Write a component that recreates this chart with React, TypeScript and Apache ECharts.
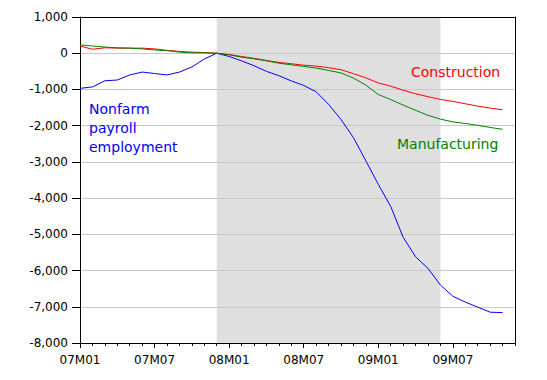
import React, { useEffect, useRef } from "react";
import * as echarts from "echarts";

const categories = [
  "07M01", "07M02", "07M03", "07M04", "07M05", "07M06", "07M07", "07M08", "07M09", "07M10", "07M11", "07M12",
  "08M01", "08M02", "08M03", "08M04", "08M05", "08M06", "08M07", "08M08", "08M09", "08M10", "08M11", "08M12",
  "09M01", "09M02", "09M03", "09M04", "09M05", "09M06", "09M07", "09M08", "09M09", "09M10", "09M11", "09M12",
];

const nonfarm = [
  -970, -930, -760, -740, -600, -520, -560, -600, -520, -380, -160, 0,
  -90, -210, -345, -500, -620, -765, -890, -1065, -1410, -1830, -2330, -2970,
  -3620, -4230, -5080, -5620, -5940, -6400, -6710, -6870, -7010, -7150, -7160,
];

const construction = [
  200, 110, 150, 140, 140, 140, 120, 80, 50, 30, 20, 0,
  -36, -90, -140, -200, -255, -290, -330, -355, -400, -455, -565, -680,
  -820, -910, -1020, -1120, -1200, -1275, -1330, -1395, -1460, -1515, -1560,
];

const manufacturing = [
  230, 200, 170, 150, 140, 120, 90, 70, 30, 10, 10, 0,
  -45, -110, -155, -210, -275, -320, -365, -410, -475, -545, -685, -880,
  -1140, -1280, -1430, -1575, -1715, -1820, -1895, -1940, -1990, -2050, -2100,
];

const recessionStart = "07M12";
const recessionEnd = "09M06";

const FONT = "DejaVu Sans";

export default function App() {
  const ref = useRef<HTMLDivElement>(null);

  useEffect(() => {
    if (!ref.current) return;
    const chart = echarts.init(ref.current, null, { renderer: "svg" });
    const fmt = (v: number) => v.toLocaleString("en-US");
    chart.setOption({
      animation: false,
      backgroundColor: "#ffffff",
      grid: { left: 80, right: 32, top: 17, bottom: 37, containLabel: false },
      xAxis: [
        {
          type: "category",
          data: categories,
          boundaryGap: false,
          position: "bottom",
          z: 3,
          axisLine: { show: true, onZero: false, lineStyle: { color: "#000", width: 1 } },
          axisTick: { show: true, interval: 0, length: 3, lineStyle: { color: "#000" } },
          axisLabel: { show: false },
          splitLine: { show: false },
        },
        {
          type: "category",
          data: categories,
          boundaryGap: false,
          position: "bottom",
          z: 3,
          axisLine: { show: false, onZero: false },
          axisTick: { show: true, interval: 5, length: 5, lineStyle: { color: "#000" } },
          axisLabel: {
            show: true,
            interval: 5,
            margin: 11,
            color: "#000",
            fontFamily: FONT,
            fontSize: 12,
          },
          splitLine: { show: false },
        },
        {
          type: "category",
          data: categories,
          boundaryGap: false,
          position: "top",
          z: 3,
          axisLine: { show: true, onZero: false, lineStyle: { color: "#000", width: 1 } },
          axisTick: { show: false },
          axisLabel: { show: false },
          splitLine: { show: false },
        },
      ],
      yAxis: [
        {
          type: "value",
          min: -8000,
          max: 1000,
          interval: 1000,
          position: "left",
          z: 3,
          axisLine: { show: true, onZero: false, lineStyle: { color: "#000", width: 1 } },
          axisTick: { show: true, length: 8, lineStyle: { color: "#000" } },
          axisLabel: {
            color: "#000",
            fontFamily: FONT,
            fontSize: 12,
            margin: 12,
            formatter: (v: number) => fmt(v),
          },
          splitLine: { show: true, lineStyle: { color: "#c8c8c8", width: 1 } },
        },
        {
          type: "value",
          min: -8000,
          max: 1000,
          interval: 1000,
          position: "right",
          z: 3,
          axisLine: { show: true, onZero: false, lineStyle: { color: "#000", width: 1 } },
          axisTick: { show: false },
          axisLabel: { show: false },
          splitLine: { show: false },
        },
      ],
      series: [
        {
          name: "Nonfarm payroll employment",
          type: "line",
          xAxisIndex: 0,
          yAxisIndex: 0,
          data: nonfarm,
          showSymbol: false,
          symbol: "none",
          z: 5,
          lineStyle: { color: "#0000ff", width: 1 },
          markArea: {
            silent: true,
            itemStyle: { color: "#dfdfdf" },
            data: [[{ xAxis: recessionStart }, { xAxis: recessionEnd }]],
          },
        },
        {
          name: "Construction",
          type: "line",
          xAxisIndex: 0,
          yAxisIndex: 0,
          data: construction,
          showSymbol: false,
          symbol: "none",
          z: 6,
          lineStyle: { color: "#ff0000", width: 1 },
        },
        {
          name: "Manufacturing",
          type: "line",
          xAxisIndex: 0,
          yAxisIndex: 0,
          data: manufacturing,
          showSymbol: false,
          symbol: "none",
          z: 7,
          lineStyle: { color: "#008000", width: 1 },
        },
      ],
      graphic: [
        {
          type: "text",
          x: 411,
          y: 72,
          z: 10,
          style: {
            text: "Construction",
            fill: "#ff0000",
            font: `14px "${FONT}"`,
            verticalAlign: "middle",
          },
        },
        {
          type: "text",
          x: 397,
          y: 144,
          z: 10,
          style: {
            text: "Manufacturing",
            fill: "#008000",
            font: `14px "${FONT}"`,
            verticalAlign: "middle",
          },
        },
        {
          type: "text",
          x: 89,
          y: 99.5,
          z: 10,
          style: {
            text: "Nonfarm\npayroll\nemployment",
            fill: "#0000ff",
            font: `14px "${FONT}"`,
            lineHeight: 19,
            verticalAlign: "top",
          },
        },
      ],
    });
    return () => chart.dispose();
  }, []);

  return (
    <div
      ref={ref}
      style={{ position: "fixed", left: 0, top: 0, width: 547, height: 380, background: "#fff" }}
    />
  );
}
